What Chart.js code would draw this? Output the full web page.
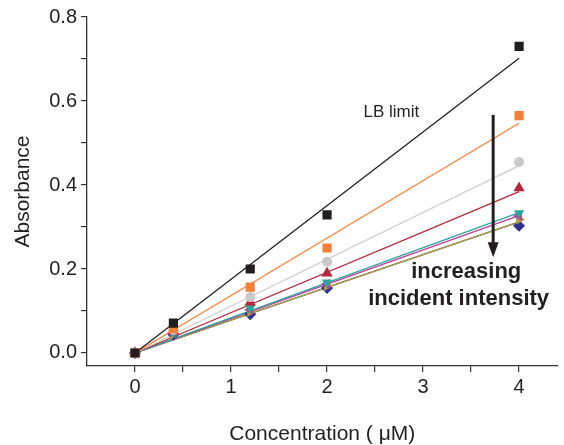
<!DOCTYPE html>
<html>
<head>
<meta charset="utf-8">
<script src="https://cdn.jsdelivr.net/npm/chart.js@4"></script>
<style>
  html,body{margin:0;padding:0;background:#fff;}
  #wrap{width:564px;height:445px;}
</style>
</head>
<body>
<div id="wrap"><canvas id="c" width="564" height="445"></canvas></div>
<script>
// concentrations (uM)
const conc = [0, 0.4, 1.2, 2, 4];

// measured absorbance, one list per incident intensity
const lbLimit = [0, 0.071, 0.2, 0.329, 0.73];
const orangeVals = [0, 0.058, 0.157, 0.25, 0.565];
const grayVals = [0, 0.055, 0.133, 0.217, 0.455];
const redVals = [0, 0.052, 0.121, 0.19, 0.393];
const tealVals = [0, 0.049, 0.107, 0.168, 0.333];
const magentaVals = [0, 0.047, 0.103, 0.164, 0.326];
const oliveVals = [0, 0.045, 0.098, 0.16, 0.318];
const blueVals = [0, 0.044, 0.092, 0.155, 0.303];

// linear fit end values at 4 uM (fits go through origin)
const fitEnds = [0.702, 0.547, 0.446, 0.384, 0.334, 0.327, 0.312, 0.312];

const xTicks = [0, 0.5, 1, 1.5, 2, 2.5, 3, 3.5, 4];
const yTicks = [0, 0.1, 0.2, 0.3, 0.4, 0.5, 0.6, 0.7, 0.8];

// lower index is drawn on top
const series = [
  {vals: lbLimit, color: '#231f20', line: '#231f20', style: 'rect', r: 6.5, rot: 0},
  {vals: orangeVals, color: '#f47f36', line: '#f47f36', style: 'rect', r: 6.5, rot: 0},
  {vals: grayVals, color: '#c9c9c9', line: '#cfcfcf', style: 'circle', r: 5, rot: 0},
  {vals: redVals, color: '#b5273a', line: '#b5273a', style: 'triangle', r: 6.5, rot: 0},
  {vals: tealVals, color: '#2aa79c', line: '#2aa79c', style: 'triangle', r: 6, rot: 180},
  {vals: magentaVals, color: '#c2399a', line: '#c2399a', style: 'triangle', r: 6, rot: -90},
  {vals: oliveVals, color: '#b3a23a', line: '#b3a23a', style: 'triangle', r: 6, rot: 90},
  {vals: blueVals, color: '#2e3192', line: '#2e3192', style: 'rectRot', r: 6, rot: 0}
];

const FONT = 'Liberation Sans, Arial, sans-serif';

const datasets = [];
series.forEach((s, i) => {
  datasets.push({
    type: 'line',
    data: [{x: conc[0], y: 0}, {x: conc[conc.length - 1], y: fitEnds[i]}],
    borderColor: s.line,
    borderWidth: 1.3,
    pointRadius: 0,
    fill: false,
    order: 2
  });
});
series.forEach(s => {
  datasets.push({
    type: 'scatter',
    data: conc.map((c, j) => ({x: c, y: s.vals[j]})),
    backgroundColor: s.color,
    borderColor: s.color,
    borderWidth: 0,
    pointStyle: s.style,
    pointRadius: s.r,
    rotation: s.rot,
    order: 1
  });
});

const notes = {
  id: 'notes',
  afterDraw(chart){
    const {ctx, scales: {x, y}} = chart;
    ctx.save();
    ctx.fillStyle = '#231f20';
    ctx.font = '17px ' + FONT;
    ctx.textAlign = 'center';
    ctx.textBaseline = 'alphabetic';
    ctx.fillText('LB limit', x.getPixelForValue(2.67), y.getPixelForValue(0.562));

    // arrow
    const ax = x.getPixelForValue(3.73);
    const y0 = y.getPixelForValue(0.567);
    const y1 = y.getPixelForValue(0.228);
    ctx.strokeStyle = '#231f20';
    ctx.lineWidth = 3;
    ctx.beginPath();
    ctx.moveTo(ax, y0);
    ctx.lineTo(ax, y1 - 12);
    ctx.stroke();
    ctx.beginPath();
    ctx.moveTo(ax - 5.5, y1 - 15);
    ctx.lineTo(ax + 5.5, y1 - 15);
    ctx.lineTo(ax, y1);
    ctx.closePath();
    ctx.fill();

    ctx.font = 'bold 22px ' + FONT;
    ctx.fillText('increasing', x.getPixelForValue(3.45), y.getPixelForValue(0.179));
    ctx.fillText('incident intensity', x.getPixelForValue(3.37), y.getPixelForValue(0.114));
    ctx.restore();
  }
};

new Chart(document.getElementById('c'), {
  data: {datasets},
  options: {
    responsive: false,
    animation: false,
    layout: {padding: {top: 17, right: 0, left: 0, bottom: 0}},
    plugins: {legend: {display: false}, tooltip: {enabled: false}},
    scales: {
      x: {
        type: 'linear',
        min: -0.5,
        max: 4.4,
        afterBuildTicks: s => { s.ticks = xTicks.map(v => ({value: v})); },
        afterFit: s => { s.height = 79; },
        grid: {drawOnChartArea: false, drawTicks: true, tickLength: 6, color: '#333', lineWidth: 1.2},
        border: {display: true, color: '#333', width: 1.3},
        ticks: {
          color: '#231f20',
          font: {family: FONT, size: 20},
          padding: 3,
          maxRotation: 0,
          autoSkip: false,
          callback: v => Number.isInteger(v) ? String(v) : ''
        },
        title: {display: true, text: 'Concentration ( \u03bcM)', color: '#231f20',
          font: {family: FONT, size: 21, lineHeight: 1.0}, padding: {top: 0, bottom: 0}}
      },
      y: {
        type: 'linear',
        min: -0.031,
        max: 0.8,
        afterBuildTicks: s => { s.ticks = yTicks.map(v => ({value: v})); },
        afterFit: s => { s.width = 87; },
        grid: {drawOnChartArea: false, drawTicks: true, tickLength: 6, color: '#333', lineWidth: 1.2},
        border: {display: true, color: '#333', width: 1.3},
        ticks: {
          color: '#231f20',
          font: {family: FONT, size: 20},
          padding: 4,
          autoSkip: false,
          callback: v => (Math.round(v * 10) % 2 === 0) ? v.toFixed(1) : ''
        },
        title: {display: true, text: 'Absorbance', color: '#231f20',
          font: {family: FONT, size: 21, lineHeight: 1.1}, padding: {top: 12, bottom: 0}}
      }
    }
  },
  plugins: [notes]
});
</script>
</body>
</html>
